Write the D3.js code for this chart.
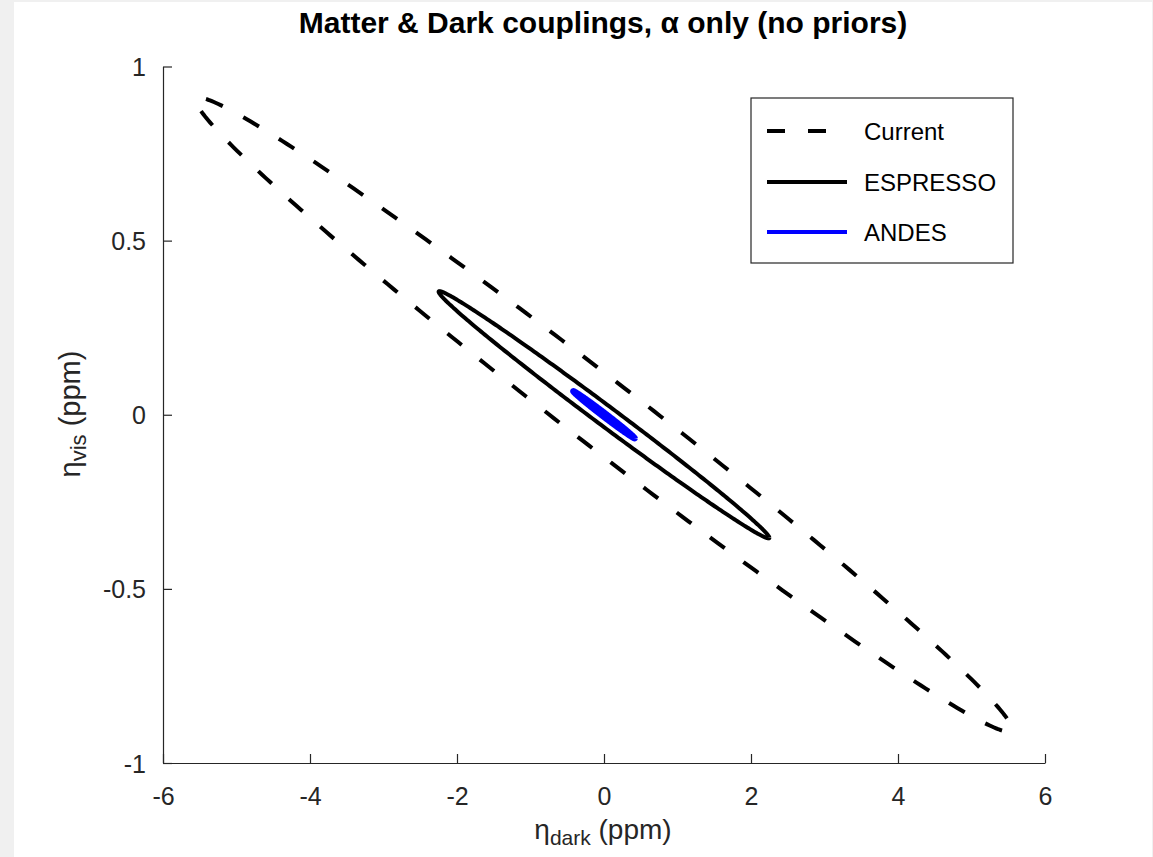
<!DOCTYPE html>
<html>
<head>
<meta charset="utf-8">
<script src="https://cdn.jsdelivr.net/npm/d3@7"></script>
<style>
  html, body { margin: 0; padding: 0; background: #f0f0f0; }
  svg { display: block; }
  text { font-family: "Liberation Sans", Arial, Helvetica, sans-serif; }
</style>
</head>
<body>
<svg id="chart" width="1153" height="857"></svg>
<script>
// Forecast confidence ellipses for the matter/dark couplings
const seriesNames  = ["Current", "ESPRESSO", "ANDES"];
const sigmaDark    = [5.55, 2.25, 0.42];   // half-extent along eta_dark (ppm)
const sigmaVis     = [0.91, 0.355, 0.068]; // half-extent along eta_vis (ppm)
const correlation  = [-0.991, -0.995, -0.995];
const seriesColors = ["#000000", "#000000", "#0000ff"];
const seriesWidths = [4, 4, 6];
const seriesDashed = [true, false, false];

const xTicks = [-6, -4, -2, 0, 2, 4, 6];
const yTicks = [-1, -0.5, 0, 0.5, 1];

const svg = d3.select("#chart");
const W = 1153, H = 857;
const axisColor = "#262626";
const DASH = 18, GAP = 23;

// page background
svg.append("rect").attr("x", 14).attr("y", 2).attr("width", W - 15).attr("height", H - 2).attr("fill", "#ffffff");

const x = d3.scaleLinear().domain([-6, 6]).range([163, 1045]);
const y = d3.scaleLinear().domain([-1, 1]).range([763, 66.5]);

// axes (left & bottom only, inward ticks)
const gx = svg.append("g").attr("transform", `translate(0,${y(-1)})`)
  .call(d3.axisBottom(x).tickValues(xTicks).tickFormat(d => String(d))
    .tickSizeInner(-9).tickSizeOuter(0).tickPadding(24));
const gy = svg.append("g").attr("transform", `translate(${x(-6)},0)`)
  .call(d3.axisLeft(y).tickValues(yTicks).tickFormat(d => String(d))
    .tickSizeInner(-9).tickSizeOuter(0).tickPadding(17));

[gx, gy].forEach(g => {
  g.select(".domain").attr("stroke", axisColor).attr("stroke-width", 1.2);
  g.selectAll(".tick line").attr("stroke", axisColor).attr("stroke-width", 1.2);
  g.selectAll(".tick text").attr("fill", axisColor)
    .style("font-family", '"Liberation Sans", Arial, sans-serif').style("font-size", "25px");
});
gx.selectAll(".tick text").attr("dy", "0.71em");
gy.selectAll(".tick text").attr("dy", "0.36em");

// ellipse outline from half-extents and correlation
function ellipsePoints(sx, sy, rho) {
  const n = 360, pts = [];
  const s = Math.sqrt(1 - rho * rho);
  for (let i = 0; i <= n; i++) {
    const t = (2 * Math.PI * i) / n;
    pts.push([sx * Math.cos(t), sy * (rho * Math.cos(t) + s * Math.sin(t))]);
  }
  return pts;
}

const line = d3.line().x(d => x(d[0])).y(d => y(d[1]));

seriesNames.forEach((name, i) => {
  const p = svg.append("path")
    .attr("d", line(ellipsePoints(sigmaDark[i], sigmaVis[i], correlation[i])))
    .attr("fill", "none")
    .attr("stroke", seriesColors[i])
    .attr("stroke-width", seriesWidths[i])
    .attr("stroke-linejoin", "round");
  if (seriesDashed[i]) {
    // fit the dash period so both tips of the ellipse fall in a gap
    const half = p.node().getTotalLength() / 2;
    const period = half / Math.round(half / (DASH + GAP));
    const k = period / (DASH + GAP);
    p.attr("stroke-dasharray", `${DASH * k},${GAP * k}`)
     .attr("stroke-dashoffset", (DASH + GAP / 2) * k);
  }
});

// title
svg.append("text")
  .attr("x", 603).attr("y", 33)
  .attr("text-anchor", "middle")
  .style("font-weight", "bold").style("font-size", "30px")
  .attr("fill", "#000")
  .text("Matter & Dark couplings, α only (no priors)");

// axis labels
const xl = svg.append("text").attr("x", 603).attr("y", 839).attr("text-anchor", "middle")
  .attr("fill", axisColor).style("font-size", "28px");
xl.append("tspan").text("η");
xl.append("tspan").attr("dy", 6).style("font-size", "21px").text("dark");
xl.append("tspan").attr("dy", -6).text(" (ppm)");

const yl = svg.append("text").attr("transform", `translate(80,414) rotate(-90)`).attr("text-anchor", "middle")
  .attr("fill", axisColor).style("font-size", "29px");
yl.append("tspan").text("η");
yl.append("tspan").attr("dy", 6).style("font-size", "22px").text("vis");
yl.append("tspan").attr("dy", -6).text(" (ppm)");

// legend
const lg = svg.append("g");
lg.append("rect").attr("x", 751).attr("y", 98).attr("width", 262).attr("height", 165)
  .attr("fill", "#fff").attr("stroke", axisColor).attr("stroke-width", 1.2);
const rowY = [131, 182, 232];
seriesNames.forEach((name, i) => {
  lg.append("line").attr("x1", 767).attr("x2", 847).attr("y1", rowY[i]).attr("y2", rowY[i])
    .attr("stroke", seriesColors[i]).attr("stroke-width", 4)
    .attr("stroke-dasharray", seriesDashed[i] ? `${DASH},${GAP}` : null);
  lg.append("text").attr("x", 864).attr("y", rowY[i]).attr("dy", "0.36em")
    .attr("fill", "#000").style("font-size", "24px").text(name);
});
</script>
</body>
</html>
